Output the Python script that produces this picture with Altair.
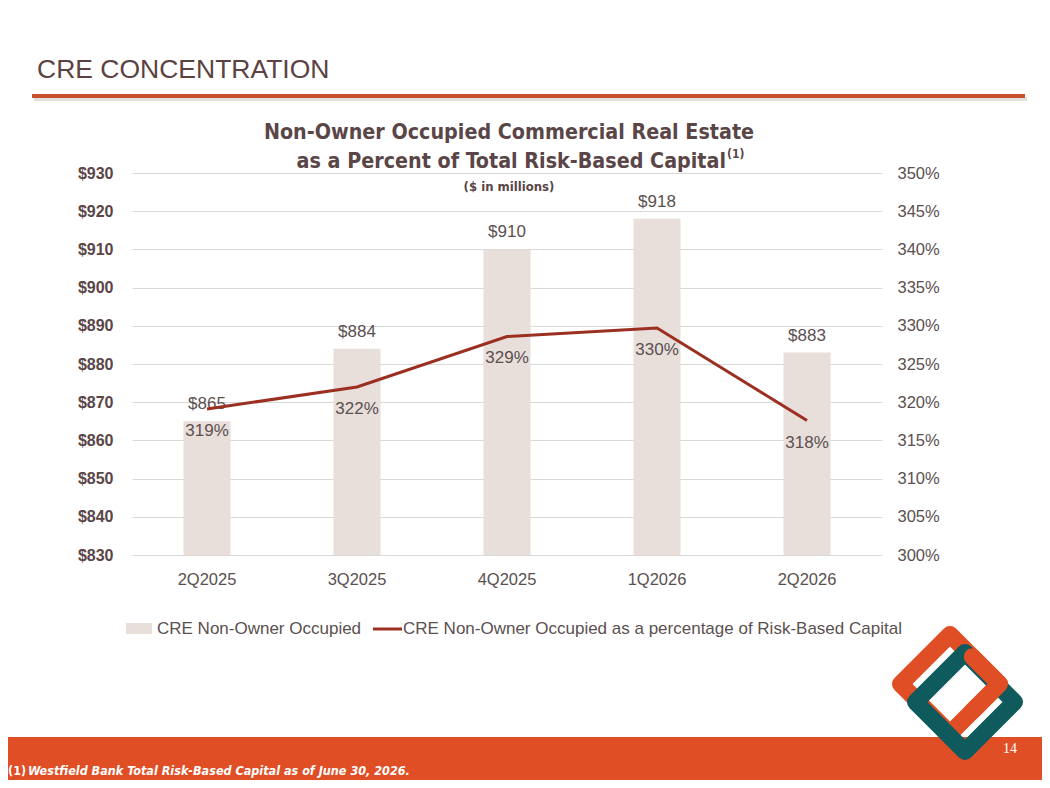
import altair as alt
import pandas as pd

# ---- data ----
quarters = ["2Q2025", "3Q2025", "4Q2025", "1Q2026", "2Q2026"]
cre_values = [865, 884, 910, 918, 883]              # $ millions
pct_values = [319.1, 322.0, 328.6, 329.7, 317.6]    # % of risk-based capital
left_ticks = list(range(830, 931, 10))
right_ticks = list(range(300, 351, 5))

BAR = "#E8DEDA"
LINE = "#9B2F21"
ORANGE = "#E04E25"
RULE = "#C9502B"
TEAL = "#0E5A5C"
TXT = "#5A4547"
GRAY = "#5B5050"
FONT = "Liberation Sans"
NARROW = "'Liberation Sans Narrow', 'DejaVu Sans Condensed', 'Liberation Sans'"

df = pd.DataFrame({"quarter": quarters, "cre": cre_values, "pct": pct_values})
one = pd.DataFrame({"k": [0]})

# plot-area origin on the page
OX, OY = 132, 173


def px(x):
    return x - OX


def py(y):
    return y - OY


xenc = alt.X("quarter:N", sort=quarters,
             scale=alt.Scale(paddingInner=0, paddingOuter=0),
             axis=alt.Axis(title=None, labelAngle=0, ticks=False, domain=False,
                           labelPadding=16, labelFontSize=16.5, labelColor=GRAY,
                           labelFont=FONT))

ycre = alt.Y("cre:Q",
             scale=alt.Scale(domain=[830, 930], zero=False, nice=False),
             axis=alt.Axis(title=None, values=left_ticks,
                           labelExpr="'$' + datum.value",
                           labelFontWeight="bold", labelFontSize=16,
                           labelColor=TXT, labelFont=FONT,
                           grid=True, gridColor="#D9D9D9", gridWidth=1,
                           domain=False, ticks=False, labelPadding=19))

ypct = alt.Y("pct:Q",
             scale=alt.Scale(domain=[300, 350], zero=False, nice=False),
             axis=alt.Axis(title=None, orient="right", values=right_ticks,
                           labelExpr="datum.value + '%'",
                           labelFontSize=16.5, labelColor=GRAY, labelFont=FONT,
                           grid=False, domain=False, ticks=False,
                           labelPadding=15))

base = alt.Chart(df)

bars = base.mark_bar(color=BAR, size=47).encode(x=xenc, y=ycre,
                                                 y2=alt.datum(830))
bar_labels = base.transform_calculate(
    lab="'$' + datum.cre"
).mark_text(dy=-17, fontSize=17, color=GRAY, font=FONT).encode(
    x=xenc, y=ycre, text="lab:N")

line = base.mark_line(color=LINE, strokeWidth=3).encode(x=xenc, y=ypct)
pct_labels = base.transform_calculate(
    lab="format(datum.pct, '.0f') + '%'"
).mark_text(dy=22, fontSize=17, color=GRAY, font=FONT).encode(
    x=xenc, y=ypct, text="lab:N")

bar_layer = alt.layer(bars, bar_labels)
line_layer = alt.layer(line, pct_labels)
chart_core = alt.layer(bar_layer, line_layer).resolve_scale(y="independent")

d = alt.Chart(one)


def text(s, x, y, size, color=TXT, weight="normal", align="left",
         font=FONT, style="normal", baseline="alphabetic"):
    return d.mark_text(text=s, fontSize=size, color=color, fontWeight=weight,
                       align=align, font=font, fontStyle=style,
                       baseline=baseline).encode(
        x=alt.value(px(x)), y=alt.value(py(y)))


# header
header = text("CRE CONCENTRATION", 37, 78, 26.5, color="#5C4242")
shadow = d.mark_rule(color="#000000", opacity=0.12, strokeWidth=4).encode(
    x=alt.value(px(34)), x2=alt.value(px(1027)),
    y=alt.value(py(99)), y2=alt.value(py(99)))
hrule = d.mark_rule(color=RULE, strokeWidth=4).encode(
    x=alt.value(px(32)), x2=alt.value(px(1025)),
    y=alt.value(py(96)), y2=alt.value(py(96)))

# chart title
t1 = text("Non-Owner Occupied Commercial Real Estate", 509, 139, 21.3,
          weight="bold", align="center", font=NARROW)
t2 = text("as a Percent of Total Risk-Based Capital", 726, 168, 21.3,
          weight="bold", align="right", font=NARROW)
t2s = text("(1)", 727, 158, 12, weight="bold", font=NARROW)
t3 = text("($ in millions)", 509, 191, 13, weight="bold", align="center",
          font=NARROW)

# legend
leg_sw1 = d.mark_rect(color=BAR).encode(
    x=alt.value(px(126)), x2=alt.value(px(152)),
    y=alt.value(py(623)), y2=alt.value(py(634)))
leg_t1 = text("CRE Non-Owner Occupied", 157, 629, 17, color=GRAY,
              baseline="middle")
leg_sw2 = d.mark_rule(color=LINE, strokeWidth=3).encode(
    x=alt.value(px(373)), x2=alt.value(px(402)),
    y=alt.value(py(629)), y2=alt.value(py(629)))
leg_t2 = text("CRE Non-Owner Occupied as a percentage of Risk-Based Capital",
              403, 629, 17, color=GRAY, baseline="middle")

# footer band
band = d.mark_rect(color=ORANGE).encode(
    x=alt.value(px(8)), x2=alt.value(px(1042)),
    y=alt.value(py(737)), y2=alt.value(py(780)))
foot1 = text("(1)", 8, 775, 12.5, color="white", weight="bold", font=NARROW)
foot2 = text("Westfield Bank Total Risk-Based Capital as of June 30, 2026.",
             28, 775, 12.5, color="white", weight="bold", style="italic",
             font=NARROW)
page = text("14", 1003, 753, 14, color="white",
            font="'Liberation Serif', 'DejaVu Serif', serif")

# logo: two interlocking rounded diamonds
RING = "M0,-1L1,0L0,1L-1,0Z"
RIGHT_CORNER = "M0.45,-0.55L1,0L0.45,0.55"


def ring(path, color, cx, cy):
    return d.mark_point(shape=path, filled=False, stroke=color,
                        strokeWidth=17, strokeJoin="round", strokeCap="round",
                        size=9800, opacity=1).encode(
        x=alt.value(px(cx)), y=alt.value(py(cy)))


logo_o = ring(RING, ORANGE, 950, 684)
logo_t = ring(RING, TEAL, 965, 702)
logo_o2 = ring(RIGHT_CORNER, ORANGE, 950, 684)

chart = alt.layer(
    band, chart_core, header, shadow, hrule, t1, t2, t2s, t3,
    leg_sw1, leg_t1, leg_sw2, leg_t2, logo_o, logo_t, logo_o2,
    foot1, foot2, page
).properties(
    width=750, height=382,
    padding={"left": 124, "top": 165, "right": 160, "bottom": 225},
    autosize=alt.AutoSizeParams(type="none"),
    background="white",
).configure_view(stroke=None)

chart.save("out.html", embed_options={"renderer": "svg", "actions": False})
